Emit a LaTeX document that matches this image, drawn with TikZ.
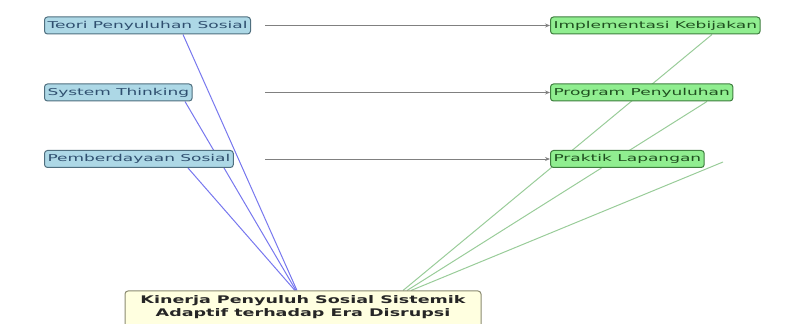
\documentclass[tikz,border=0pt]{standalone}
\usepackage{fontspec}
\usepackage{graphicx}
\setmainfont{DejaVu Sans}
\usetikzlibrary{arrows.meta,calc,backgrounds}
\definecolor{bfill}{HTML}{ADD8E6}
\definecolor{bdraw}{HTML}{4F6F7F}
\definecolor{btext}{HTML}{2F4F6F}
\definecolor{gfill}{HTML}{90EE90}
\definecolor{gdraw}{HTML}{3F7F3F}
\definecolor{gtext}{HTML}{1F4F1F}
\definecolor{yfill}{HTML}{FFFFE0}
\definecolor{ydraw}{HTML}{8A8A70}
\definecolor{bline}{HTML}{7777EE}
\definecolor{gline}{HTML}{99CC99}
\newcommand{\stretchtxt}[1]{\scalebox{1.79}[1]{#1}}
\newcommand{\stretchbig}[1]{\scalebox{1.67}[1]{#1}}
\tikzset{
  x=1pt,y=1pt,
  srcbox/.style={draw=bdraw,fill=bfill,text=btext,rounded corners=3pt,line width=1pt,
    anchor=west,inner xsep=3pt,inner ysep=0pt,minimum height=17pt,font=\fontsize{9.5}{10}\selectfont},
  dstbox/.style={draw=gdraw,fill=gfill,text=gtext,rounded corners=3pt,line width=1pt,
    anchor=west,inner xsep=3pt,inner ysep=0pt,minimum height=17pt,font=\fontsize{9.5}{10}\selectfont},
  goalbox/.style={draw=ydraw,fill=yfill,rounded corners=3pt,line width=1pt,anchor=north,
    minimum width=356pt,align=center,text depth=12pt,
    font=\bfseries\fontsize{10.5}{13}\selectfont,text=black!85,inner ysep=5pt},
  flow/.style={draw=gray,line width=0.9pt,-{Stealth[length=5pt,width=4pt]}},
  bluel/.style={draw=bline,line width=1pt},
  greenl/.style={draw=gline,line width=1pt},
}
\begin{document}
\begin{tikzpicture}
\useasboundingbox (0,0) rectangle (785,324);
\node[srcbox] (teori) at (44,298.5) {\stretchtxt{Teori Penyuluhan Sosial}};
\node[srcbox] (system) at (44,231.5) {\stretchtxt{System Thinking}};
\node[srcbox] (pember) at (44,165) {\stretchtxt{Pemberdayaan Sosial}};
\node[dstbox] (impl) at (550,298.5) {\stretchtxt{Implementasi Kebijakan}};
\node[dstbox] (prog) at (550,231.5) {\stretchtxt{Program Penyuluhan}};
\node[dstbox] (prak) at (550,165) {\stretchtxt{Praktik Lapangan}};
\node[goalbox] (goal) at (303,33.5) {\stretchbig{Kinerja Penyuluh Sosial Sistemik}\\\stretchbig{Adaptif terhadap Era Disrupsi}};
\coordinate (s1) at (265,298.5);
\coordinate (s2) at (265,231.5);
\coordinate (s3) at (265,165);
\coordinate (pend) at (723,162);
\begin{pgfonlayer}{background}
\draw[flow] (s1) -- (impl.west);
\draw[flow] (s2) -- (prog.west);
\draw[flow] (s3) -- (prak.west);
\draw[bluel] (183,0 |- teori.south) -- ([xshift=-6pt]goal.north);
\draw[bluel] (185,0 |- system.south) -- ([xshift=-7pt]goal.north);
\draw[bluel] (188,0 |- pember.south) -- ([xshift=-8pt]goal.north);
\draw[greenl] (712,0 |- impl.south) -- ([xshift=100pt]goal.north);
\draw[greenl] (707,0 |- prog.south) -- ([xshift=104pt]goal.north);
\draw[greenl] (pend) -- ([xshift=108pt]goal.north);
\end{pgfonlayer}
\end{tikzpicture}
\end{document}
